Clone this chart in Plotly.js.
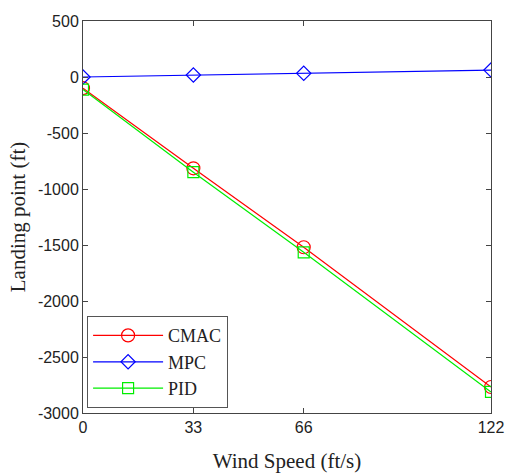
<!DOCTYPE html>
<html>
<head>
<meta charset="utf-8">
<script src="https://cdn.plot.ly/plotly-3.0.1.min.js"></script>
<style>html,body{margin:0;padding:0;background:#fff;}#chart{width:508px;height:475px;}</style>
</head>
<body>
<div id="chart"></div>
<script>
var windSpeed = [0, 33, 66, 122];
var cmac = [-100, -815, -1520, -2768];
var mpc = [0, 18, 33, 62];
var pid = [-112, -850, -1565, -2812];
var xTickLabels = ['0', '33', '66', '122'];
var yTickVals = [500, 0, -500, -1000, -1500, -2000, -2500, -3000];
var yTickLabels = ['500', '0', '-500', '-1000', '-1500', '-2000', '-2500', '-3000'];

var serif = 'Liberation Serif, Times New Roman, serif';
var sans = 'Liberation Sans, Arial, sans-serif';

var traces = [
  {x: windSpeed, y: cmac, name: 'CMAC', mode: 'lines+markers',
   line: {color: '#ff0000', width: 1.2},
   marker: {symbol: 'circle-open', size: 13, color: '#ff0000', line: {width: 1.2}}},
  {x: windSpeed, y: mpc, name: 'MPC', mode: 'lines+markers',
   line: {color: '#0000ff', width: 1.2},
   marker: {symbol: 'diamond-open', size: 11, color: '#0000ff', line: {width: 1.2}}},
  {x: windSpeed, y: pid, name: 'PID', mode: 'lines+markers',
   line: {color: '#00ee00', width: 1.2},
   marker: {symbol: 'square-open', size: 11, color: '#00ee00', line: {width: 1.2}}}
];

var layout = {
  width: 508, height: 475,
  margin: {l: 83, r: 17, t: 21, b: 62},
  paper_bgcolor: '#fff', plot_bgcolor: '#fff',
  showlegend: true,
  legend: {x: 0.01, y: 0.247, xanchor: 'left', yanchor: 'top',
    bgcolor: '#fff', bordercolor: '#555', borderwidth: 1,
    font: {family: serif, size: 18, color: '#222'},
    itemwidth: 70},
  xaxis: {
    range: [0, 122], tickvals: windSpeed, ticktext: xTickLabels,
    showgrid: false, zeroline: false, showline: true, mirror: 'ticks',
    linecolor: '#444', linewidth: 1, ticks: 'inside', ticklen: 5, tickcolor: '#444',
    tickfont: {family: sans, size: 16, color: '#222'},
    title: {text: 'Wind Speed (ft/s)', font: {family: serif, size: 21, color: '#222'}, standoff: 18}
  },
  yaxis: {
    range: [-3000, 500], tickvals: yTickVals, ticktext: yTickLabels,
    showgrid: false, zeroline: false, showline: true, mirror: 'ticks',
    linecolor: '#444', linewidth: 1, ticks: 'inside', ticklen: 5, tickcolor: '#444',
    tickfont: {family: sans, size: 16, color: '#222'},
    title: {text: 'Landing point (ft)', font: {family: serif, size: 21, color: '#222'}, standoff: 6}
  }
};

Plotly.newPlot('chart', traces, layout, {displayModeBar: false, staticPlot: true});
</script>
</body>
</html>
